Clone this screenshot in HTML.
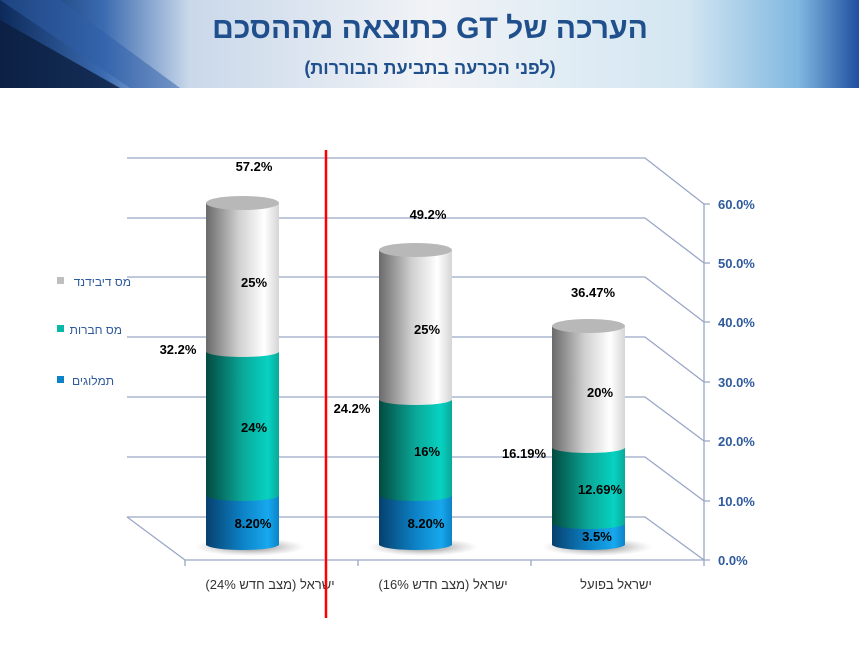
<!DOCTYPE html>
<html><head><meta charset="utf-8"><style>
body{margin:0;width:859px;height:647px;overflow:hidden;background:#fff;font-family:"Liberation Sans",Arial,sans-serif}
</style></head><body>
<svg width="859" height="647" xmlns="http://www.w3.org/2000/svg" font-family="Liberation Sans, DejaVu Sans, sans-serif">
<defs>
<linearGradient id="ban" x1="0" y1="0" x2="1" y2="0">
<stop offset="0" stop-color="#0d2a5a"/><stop offset="0.12" stop-color="#3a6ab0"/><stop offset="0.22" stop-color="#c9d8ea"/><stop offset="0.5" stop-color="#f1f3f6"/><stop offset="0.8" stop-color="#d3e6f2"/><stop offset="0.93" stop-color="#7fb7e0"/><stop offset="1" stop-color="#1f4fa0"/></linearGradient>
<linearGradient id="gr" x1="0" x2="1"><stop offset="0" stop-color="#6a6a6a"/><stop offset="0.45" stop-color="#d0d0d0"/><stop offset="0.8" stop-color="#ffffff"/><stop offset="1" stop-color="#d5d5d5"/></linearGradient>
<linearGradient id="te" x1="0" x2="1"><stop offset="0" stop-color="#034a40"/><stop offset="0.5" stop-color="#0aa898"/><stop offset="0.85" stop-color="#07d2c2"/><stop offset="1" stop-color="#0aa898"/></linearGradient>
<linearGradient id="bl" x1="0" x2="1"><stop offset="0" stop-color="#06406e"/><stop offset="0.5" stop-color="#0d82c6"/><stop offset="0.85" stop-color="#17a8ee"/><stop offset="1" stop-color="#0d82c6"/></linearGradient>
<radialGradient id="sh"><stop offset="0" stop-color="#555" stop-opacity="0.8"/><stop offset="1" stop-color="#999" stop-opacity="0"/></radialGradient>
</defs>
<rect x="0" y="0" width="859" height="88" fill="url(#ban)"/>
<path d="M0 20 L120 88 L0 88Z" fill="#0b1e3e" opacity="0.8"/>
<path d="M0 0 L60 0 L180 88 L130 88Z" fill="#2d5ea8" opacity="0.5"/>
<text x="430" y="38" text-anchor="middle" direction="rtl" font-size="30" font-weight="bold" fill="#1f4f8c">הערכה של GT כתוצאה מההסכם</text>
<text x="430" y="74" text-anchor="middle" direction="rtl" font-size="18" font-weight="bold" fill="#1f4f8c">(לפני הכרעה בתביעת הבוררות)</text>

<g stroke="#9aa6c6" stroke-width="1.3" fill="none">
<path d="M127 158 H645 L704 204"/>
<path d="M127 218 H645 L704 263"/>
<path d="M127 277 H645 L704 322"/>
<path d="M127 337 H645 L704 382"/>
<path d="M127 397 H645 L704 441"/>
<path d="M127 457 H645 L704 501"/>
<path d="M127 517 H645 L704 560"/>
<path d="M127 517 L185 560 H704 V204"/>
<path d="M185 560 v6 M358 560 v6 M531 560 v6 M704 560 v6"/>
<path d="M704 204 h6 M704 263 h6 M704 322 h6 M704 382 h6 M704 441 h6 M704 501 h6 M704 560 h6"/>
</g>
<g font-size="13" font-weight="bold" fill="#2e5a9e">
<text x="718" y="209">60.0%</text><text x="718" y="268">50.0%</text><text x="718" y="327">40.0%</text><text x="718" y="387">30.0%</text><text x="718" y="446">20.0%</text><text x="718" y="506">10.0%</text><text x="718" y="565">0.0%</text>
</g>

<g>
<ellipse cx="250" cy="547" rx="55" ry="9" fill="url(#sh)"/>
<path d="M206 496 V545 A37 6 0 0 0 279 545 V496Z" fill="url(#bl)"/>
<path d="M206 352 V496 A37 6 0 0 0 279 496 V352Z" fill="url(#te)"/>
<path d="M206 203 V352 A37 6 0 0 0 279 352 V203Z" fill="url(#gr)"/>
<ellipse cx="242.5" cy="203" rx="36.5" ry="7" fill="#b8b8b8"/>

<ellipse cx="423" cy="547" rx="55" ry="9" fill="url(#sh)"/>
<path d="M379 496 V545 A37 6 0 0 0 452 545 V496Z" fill="url(#bl)"/>
<path d="M379 400 V496 A37 6 0 0 0 452 496 V400Z" fill="url(#te)"/>
<path d="M379 250 V400 A37 6 0 0 0 452 400 V250Z" fill="url(#gr)"/>
<ellipse cx="415.5" cy="250" rx="36.5" ry="7" fill="#b8b8b8"/>

<ellipse cx="597" cy="547" rx="55" ry="9" fill="url(#sh)"/>
<path d="M552 524 V545 A37 6 0 0 0 625 545 V524Z" fill="url(#bl)"/>
<path d="M552 448 V524 A37 6 0 0 0 625 524 V448Z" fill="url(#te)"/>
<path d="M552 326 V448 A37 6 0 0 0 625 448 V326Z" fill="url(#gr)"/>
<ellipse cx="588.5" cy="326" rx="36.5" ry="7" fill="#b8b8b8"/>
</g>

<g font-size="13" font-weight="bold" fill="#000" text-anchor="middle">
<text x="254" y="171">57.2%</text><text x="254" y="287">25%</text><text x="254" y="432">24%</text><text x="253" y="528">8.20%</text><text x="178" y="354">32.2%</text>
<text x="428" y="219">49.2%</text><text x="427" y="334">25%</text><text x="427" y="456">16%</text><text x="426" y="528">8.20%</text><text x="352" y="413">24.2%</text>
<text x="593" y="297">36.47%</text><text x="600" y="397">20%</text><text x="600" y="494">12.69%</text><text x="597" y="541">3.5%</text><text x="524" y="458">16.19%</text>
</g>

<g font-size="13" fill="#333" text-anchor="middle">
<text x="270" y="589">ישראל (מצב חדש 24%)</text>
<text x="443" y="589">ישראל (מצב חדש 16%)</text>
<text x="616" y="589">ישראל בפועל</text>
</g>

<g font-size="12" fill="#2e5a9e" text-anchor="end">
<rect x="57" y="277" width="7" height="7" fill="#bfbfbf"/><text x="131" y="286">מס דיבידנד</text>
<rect x="57" y="325" width="7" height="7" fill="#08b8a8"/><text x="122" y="334">מס חברות</text>
<rect x="57" y="376" width="7" height="7" fill="#0d82c6"/><text x="114" y="385">תמלוגים</text>
</g>

<line x1="326" y1="150" x2="326" y2="618" stroke="#f00" stroke-width="2.5"/>
</svg>
</body></html>
